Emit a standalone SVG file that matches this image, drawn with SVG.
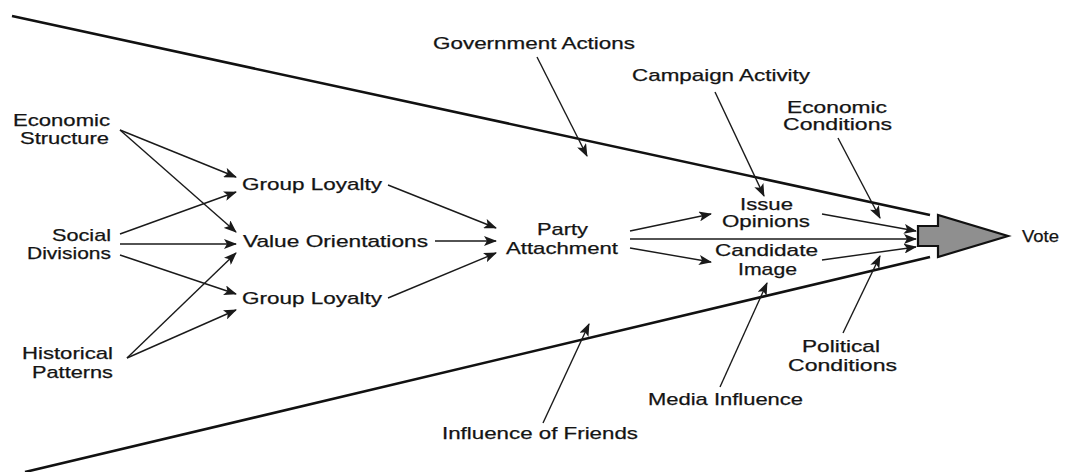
<svg xmlns="http://www.w3.org/2000/svg" width="1067" height="472" viewBox="0 0 1067 472">
<style>
text{font-family:"Liberation Sans",Arial,sans-serif;font-size:17px;fill:#141414;stroke:#141414;stroke-width:0.25}
.a{stroke:#1a1a1a;stroke-width:1.4;fill:none;marker-end:url(#ah)}
.f{stroke:#111;stroke-width:2.6;fill:none}
</style>
<defs>
<marker id="ah" markerUnits="userSpaceOnUse" markerWidth="14" markerHeight="10" refX="12" refY="5" orient="auto">
<path d="M0,0 L13,5 L0,10 L3,5 Z" fill="#1a1a1a"/>
</marker>
</defs>
<g id="connectors">
<line class="f" x1="12" y1="16" x2="930" y2="215"/>
<line class="f" x1="25" y1="472" x2="930" y2="257"/>
<line class="a" x1="120" y1="130" x2="236" y2="177"/>
<line class="a" x1="120" y1="130" x2="236" y2="232"/>
<line class="a" x1="120" y1="234" x2="236" y2="192"/>
<line class="a" x1="120" y1="244" x2="236" y2="244"/>
<line class="a" x1="120" y1="255" x2="236" y2="294"/>
<line class="a" x1="127" y1="358" x2="236" y2="253"/>
<line class="a" x1="127" y1="358" x2="236" y2="310"/>
<line class="a" x1="388" y1="185" x2="496" y2="228"/>
<line class="a" x1="435" y1="241" x2="496" y2="241"/>
<line class="a" x1="388" y1="298" x2="496" y2="253"/>
<line class="a" x1="630" y1="231" x2="711" y2="214"/>
<line class="a" x1="630" y1="239" x2="916" y2="239"/>
<line class="a" x1="630" y1="248" x2="711" y2="262"/>
<line class="a" x1="822" y1="214" x2="916" y2="231"/>
<line class="a" x1="822" y1="260" x2="916" y2="247"/>
<line class="a" x1="537" y1="57" x2="587" y2="156"/>
<line class="a" x1="715" y1="92" x2="764" y2="196"/>
<line class="a" x1="838" y1="138" x2="880" y2="218"/>
<line class="a" x1="843" y1="333" x2="880" y2="256"/>
<line class="a" x1="720" y1="387" x2="767" y2="283"/>
<line class="a" x1="543" y1="423" x2="589" y2="324"/>
</g>
<g id="vote-arrow">
<polygon points="918,226 938,226 938,215 1008,236 938,257 938,246 918,246" fill="#8f8f8f" stroke="#111" stroke-width="2.2" stroke-linejoin="miter"/>
</g>
<g id="economic-structure"><text x="13" y="126" textLength="97" lengthAdjust="spacingAndGlyphs">Economic</text><text x="20" y="144" textLength="89" lengthAdjust="spacingAndGlyphs">Structure</text></g>
<g id="social-divisions"><text x="52" y="241" textLength="59" lengthAdjust="spacingAndGlyphs">Social</text><text x="27" y="259" textLength="84" lengthAdjust="spacingAndGlyphs">Divisions</text></g>
<g id="historical-patterns"><text x="22" y="359" textLength="91" lengthAdjust="spacingAndGlyphs">Historical</text><text x="32" y="378" textLength="81" lengthAdjust="spacingAndGlyphs">Patterns</text></g>
<g id="group-loyalty-1"><text x="242" y="190" textLength="140" lengthAdjust="spacingAndGlyphs">Group Loyalty</text></g>
<g id="value-orientations"><text x="243" y="247" textLength="185" lengthAdjust="spacingAndGlyphs">Value Orientations</text></g>
<g id="group-loyalty-2"><text x="242" y="304" textLength="140" lengthAdjust="spacingAndGlyphs">Group Loyalty</text></g>
<g id="party-attachment"><text x="537" y="235" textLength="51" lengthAdjust="spacingAndGlyphs">Party</text><text x="506" y="254" textLength="112" lengthAdjust="spacingAndGlyphs">Attachment</text></g>
<g id="government-actions"><text x="433" y="49" textLength="202" lengthAdjust="spacingAndGlyphs">Government Actions</text></g>
<g id="campaign-activity"><text x="632" y="81" textLength="178" lengthAdjust="spacingAndGlyphs">Campaign Activity</text></g>
<g id="economic-conditions"><text x="787" y="113" textLength="100" lengthAdjust="spacingAndGlyphs">Economic</text><text x="783" y="130" textLength="109" lengthAdjust="spacingAndGlyphs">Conditions</text></g>
<g id="issue-opinions"><text x="740" y="210" textLength="53" lengthAdjust="spacingAndGlyphs">Issue</text><text x="722" y="227" textLength="88" lengthAdjust="spacingAndGlyphs">Opinions</text></g>
<g id="candidate-image"><text x="715" y="256" textLength="103" lengthAdjust="spacingAndGlyphs">Candidate</text><text x="738" y="275" textLength="59" lengthAdjust="spacingAndGlyphs">Image</text></g>
<g id="vote"><text x="1022" y="242" textLength="37" lengthAdjust="spacingAndGlyphs">Vote</text></g>
<g id="political-conditions"><text x="802" y="352" textLength="78" lengthAdjust="spacingAndGlyphs">Political</text><text x="788" y="371" textLength="109" lengthAdjust="spacingAndGlyphs">Conditions</text></g>
<g id="media-influence"><text x="648" y="405" textLength="155" lengthAdjust="spacingAndGlyphs">Media Influence</text></g>
<g id="influence-of-friends"><text x="442" y="439" textLength="196" lengthAdjust="spacingAndGlyphs">Influence of Friends</text></g>
</svg>
